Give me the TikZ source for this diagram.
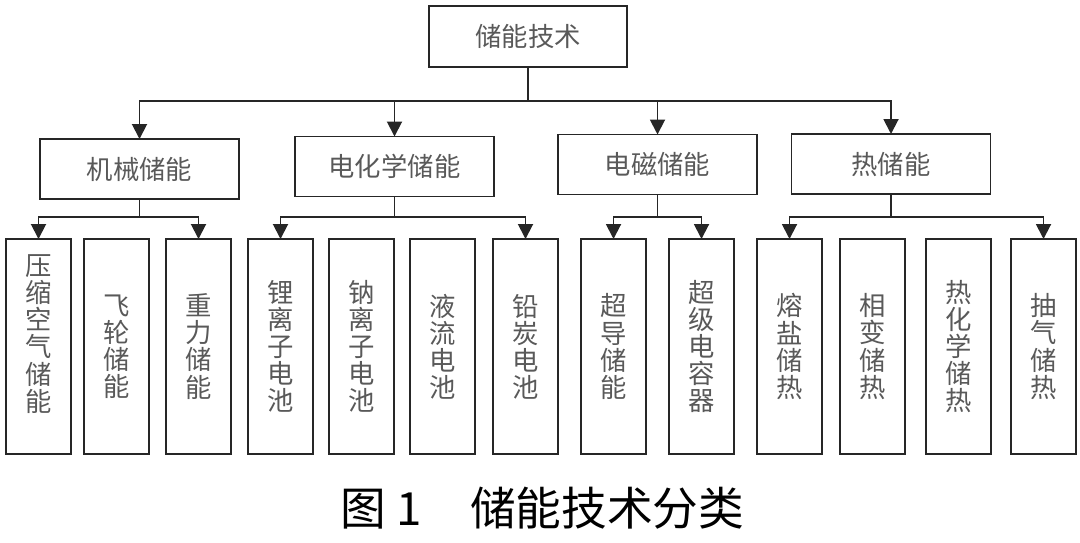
\documentclass[tikz,border=0pt]{standalone}
\usepackage{fontspec}
\usepackage{tikz}
\usetikzlibrary{arrows.meta, positioning}
\newfontfamily\cjk{Noto Sans CJK SC}

\begin{document}
\begin{tikzpicture}[
        font=\cjk\fontsize{15}{15.4}\selectfont,
        every node/.style={align=center},
        node distance=0.34cm,
        topbox/.style={
            rectangle, draw=black!85, line width=1.1pt,
            text=black!65,
            minimum width=3.96cm, minimum height=1.22cm,
            inner sep=0pt, outer sep=0pt
        },
        catbox/.style={
            rectangle, draw=black!85, line width=1.1pt,
            text=black!65,
            minimum width=3.98cm, minimum height=1.2cm,
            inner sep=0pt, outer sep=0pt
        },
        leaf/.style={
            rectangle, draw=black!85, line width=1.1pt,
            text=black!65,
            minimum width=1.3cm, minimum height=4.3cm,
            inner sep=0pt, outer sep=0pt
        },
        link/.style={line width=1.1pt, black!85},
        arr/.style={-{Triangle[length=3mm,width=3mm]}, line width=1.1pt, black!85}
    ]
    \useasboundingbox (0,0) rectangle (21.6,-10.84);

    \node[topbox] (root) at (10.56,-0.73) {储能技术};

    \node[catbox] (mech) at (2.79,-3.38) {机械储能};
    \node[catbox] (echem) at (7.89,-3.33) {电化学储能};
    \node[catbox] (emag) at (13.15,-3.29) {电磁储能};
    \node[catbox] (therm) at (17.82,-3.28) {热储能};

    \node[leaf] (caes) at (0.77,-6.93) {压\\缩\\空\\气\\储\\能\\~};
    \node[leaf, right=0.26cm of caes] (fly) {飞\\轮\\储\\能};
    \node[leaf, right=0.34cm of fly] (grav) {重\\力\\储\\能};
    \node[leaf, right=0.34cm of grav] (liion) {锂\\离\\子\\电\\池};
    \node[leaf, right=0.32cm of liion] (naion) {钠\\离\\子\\电\\池};
    \node[leaf, right=0.32cm of naion] (flow) {液\\流\\电\\池};
    \node[leaf, right=0.36cm of flow] (pbc) {铅\\炭\\电\\池};
    \node[leaf, right=0.46cm of pbc] (smes) {超\\导\\储\\能};
    \node[leaf, right=0.46cm of smes] (scap) {超\\级\\电\\容\\器};
    \node[leaf, right=0.46cm of scap] (salt) {熔\\盐\\储\\热};
    \node[leaf, right=0.36cm of salt] (pcm) {相\\变\\储\\热};
    \node[leaf, right=0.42cm of pcm] (tchem) {热\\化\\学\\储\\热};
    \node[leaf, right=0.40cm of tchem] (pump) {抽\\气\\储\\热};

    \node[font=\cjk\fontsize{26}{30}\selectfont] (cap) at (10.85,-10.17) {图 1\hspace{1.05em}储能技术分类};

    % root -> categories
    \draw[link] (root.south) -- ++(0,-0.68) coordinate (rbus);
    \foreach \c in {mech,echem,emag,therm}
        \draw[arr] (rbus) -| (\c.north);

    % categories -> outer leaves
    \draw[link] (mech.south) -- (mech.south |- 0,-4.34) coordinate (mbus);
    \draw[arr] (mbus) -| (caes.north);
    \draw[arr] (mbus) -| (grav.north);

    \draw[link] (echem.south) -- (echem.south |- 0,-4.34) coordinate (cbus);
    \draw[arr] (cbus) -| (liion.north);
    \draw[arr] (cbus) -| (pbc.north);

    \draw[link] (emag.south) -- (emag.south |- 0,-4.34) coordinate (ebus);
    \draw[arr] (ebus) -| (smes.north);
    \draw[arr] (ebus) -| (scap.north);

    \draw[link] (therm.south) -- (therm.south |- 0,-4.34) coordinate (tbus);
    \draw[arr] (tbus) -| (salt.north);
    \draw[arr] (tbus) -| (pump.north);

\end{tikzpicture}
\end{document}
